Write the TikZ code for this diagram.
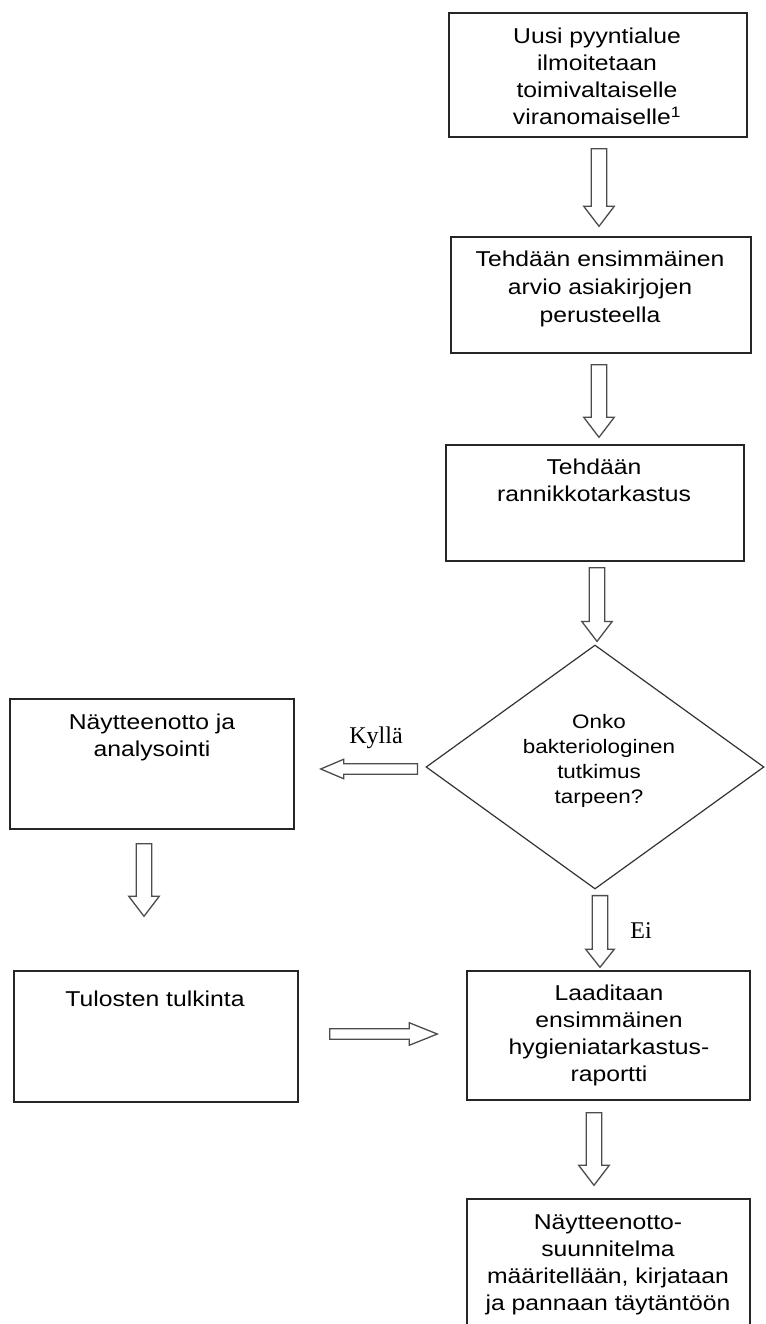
\documentclass[tikz,border=0pt]{standalone}
\usepackage{fontspec}
\setmainfont[FakeStretch=1.15]{Liberation Sans}
\newfontfamily\serifkl{Liberation Serif}
\usetikzlibrary{calc,shapes.geometric}

% block arrow: #1 shaft half width, #2 head half width, #3 head length, #4 from, #5 to
\newcommand\barrow[5]{%
  \draw[barrowline]
    ($(#4)!#1!90:(#5)$) --
    ($(#5)!#3!(#4)!#1!-90:(#4)$) --
    ($(#5)!#3!(#4)!#2!-90:(#4)$) --
    (#5) --
    ($(#5)!#3!(#4)!#2!90:(#4)$) --
    ($(#5)!#3!(#4)!#1!90:(#4)$) --
    ($(#4)!#1!-90:(#5)$) -- cycle;}

\tikzset{
  box/.style={draw=black!85, line width=1.4pt, rectangle, inner sep=0pt},
  dia/.style={draw=black!80, line width=1.2pt, diamond, inner sep=0pt},
  txt/.style={inner sep=0pt, align=center, anchor=north,
    font=\fontsize{21.5}{27}\selectfont, execute at begin node=\strut},
  smalltxt/.style={inner sep=0pt, align=center, anchor=north,
    font=\fontsize{19.5}{25}\selectfont, execute at begin node=\strut},
  lbl/.style={inner sep=0pt, anchor=base, font=\serifkl\fontsize{24}{28}\selectfont},
  barrowline/.style={draw=black!70, line width=1.3pt, fill=white, line join=miter},
}

\begin{document}
\begin{tikzpicture}[x=1pt,y=-1pt]
\fill[white] (0,0) rectangle (765,1324);
\useasboundingbox (0,0) rectangle (765,1324);

% right column boxes
\node[box, minimum width=298, minimum height=124] (b1) at (598,75) {};
\node[txt] (t1) at (597,28.1) {Uusi pyyntialue\\ilmoitetaan\\toimivaltaiselle\\viranomaiselle\textsuperscript{1}};

\node[box, minimum width=300, minimum height=116] (b2) at (601,295) {};
\node[txt, font=\fontsize{21.5}{28}\selectfont] (t2) at (600,250.4) {Tehdään ensimmäinen\\arvio asiakirjojen\\perusteella};

\node[box, minimum width=298, minimum height=116] (b3) at (595,503) {};
\node[txt] (t3) at (594,459.1) {Tehdään\\rannikkotarkastus};

\node[dia, minimum width=338, minimum height=244] (d) at (595,767) {};
\node[smalltxt] (td) at (599,714.5) {Onko\\bakteriologinen\\tutkimus\\tarpeen?};

% left column
\node[box, minimum width=284, minimum height=130] (l1) at (152,764) {};
\node[txt] (tl1) at (152,714.1) {Näytteenotto ja\\analysointi};

\node[box, minimum width=284, minimum height=131] (l2) at (156,1036.5) {};
\node[txt] (tl2) at (155,987.1) {Tulosten tulkinta};

% lower right
\node[box, minimum width=283, minimum height=129] (b4) at (608.5,1035.5) {};
\node[txt] (t4) at (609,985.1) {Laaditaan\\ensimmäinen\\hygieniatarkastus-\\raportti};

\node[box, minimum width=283, minimum height=127] (b5) at (608.5,1262.5) {};
\node[txt] (t5) at (608,1214.1) {Näytteenotto-\\suunnitelma\\määritellään, kirjataan\\ja pannaan täytäntöön};

% labels
\node[lbl] (kylla) at (376,743) {Kyllä};
\node[lbl] (ei) at (641,938) {Ei};

% arrow end points
\coordinate (a1s) at ($(b1.south)+(1,11)$);
\coordinate (a1e) at ($(b2.north)+(-2,-10)$);
\coordinate (a2s) at ($(b2.south)+(-2,11)$);
\coordinate (a2e) at ($(b3.north)+(4,-7)$);
\coordinate (a3s) at ($(b3.south)+(2,6)$);
\coordinate (a3e) at ($(d.north)+(2,-3)$);
\coordinate (aks) at ($(d.west)+(-8,2)$);
\coordinate (ake) at ($(l1.east)+(26,5)$);
\coordinate (als) at ($(l1.south)+(-8,14)$);
\coordinate (ale) at ($(l2.north)+(-12,-54)$);
\coordinate (ars) at ($(l2.east)+(31,-2.5)$);
\coordinate (are) at ($(b4.west)+(-29,-1.5)$);
\coordinate (aes) at ($(d.south)+(5,6)$);
\coordinate (aee) at ($(b4.north)+(-8.5,-3)$);
\coordinate (a4s) at ($(b4.south)+(-14.5,12)$);
\coordinate (a4e) at ($(b5.north)+(-14.5,-13)$);

\barrow{7.75pt}{15.25pt}{20pt}{a1s}{a1e}
\barrow{7.75pt}{15.25pt}{20pt}{a2s}{a2e}
\barrow{7.75pt}{15.25pt}{20pt}{a3s}{a3e}
\barrow{5.25pt}{9.75pt}{23pt}{aks}{ake}
\barrow{7.75pt}{15.25pt}{20pt}{als}{ale}
\barrow{5.25pt}{11.25pt}{28pt}{ars}{are}
\barrow{7.75pt}{14.25pt}{18pt}{aes}{aee}
\barrow{7.75pt}{15.25pt}{20pt}{a4s}{a4e}
\end{tikzpicture}
\end{document}
